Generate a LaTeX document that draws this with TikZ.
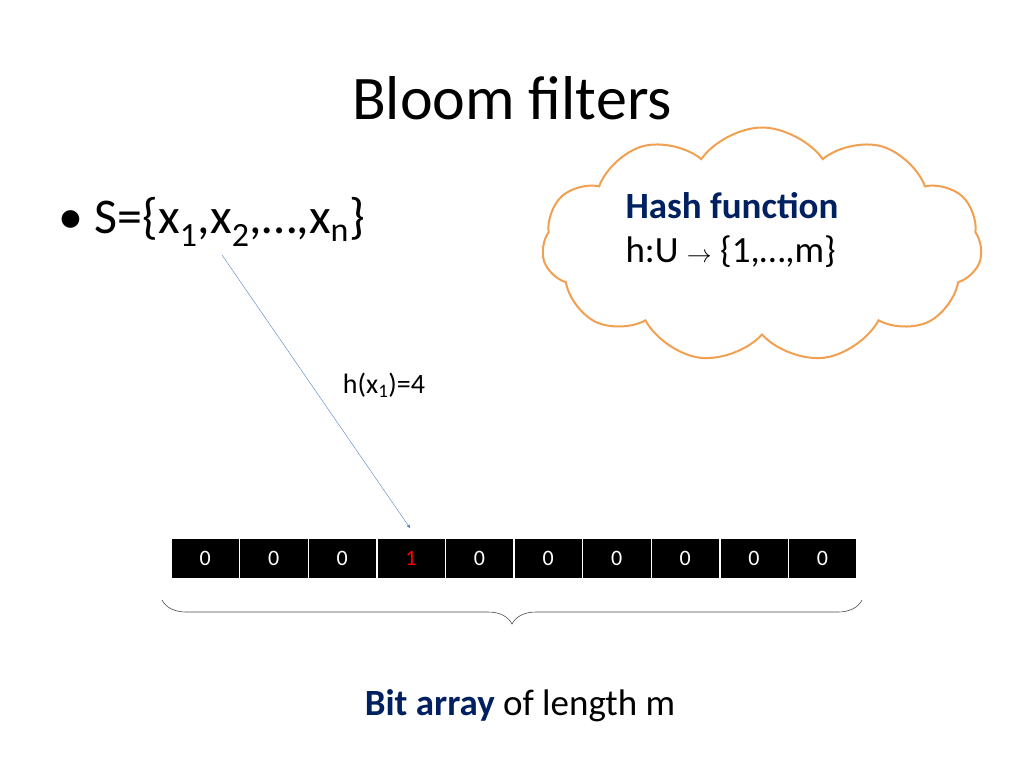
\documentclass[tikz,border=0pt]{standalone}
\usepackage{fontspec}
\setmainfont{Carlito}
\usetikzlibrary{shapes.symbols, decorations.pathreplacing, arrows, positioning}
\definecolor{navy}{RGB}{0,32,96}
\definecolor{cloudorange}{RGB}{240,160,80}
\definecolor{linkblue}{RGB}{80,130,190}
\begin{document}
\begin{tikzpicture}[x=1pt,y=-1pt,>=stealth']
\tikzset{bitcell/.style={draw=white, fill=black, text=white, minimum width=68.2pt,
  minimum height=40pt, inner sep=0pt, font=\fontsize{22}{22}\selectfont}}
\useasboundingbox (0,0) rectangle (1024,768);

\node[font=\fontsize{62}{62}\selectfont] (title) at (512,98) {Bloom filters};
\node[anchor=west, font=\fontsize{50}{50}\selectfont] (set) at (55,222)
  {\textbullet\ S=\{x$_{\mbox{\fontsize{34}{34}\selectfont 1}}$,x$_{\mbox{\fontsize{34}{34}\selectfont 2}}$,…,x$_{\mbox{\fontsize{34}{34}\selectfont n}}$\}};

\node[cloud, cloud puffs=11, cloud puff arc=110, aspect=1.9, draw=cloudorange, line width=2pt,
  fill=white, minimum width=440pt, minimum height=235pt] (cloud) at (762,245) {};
\node[anchor=west, align=left, font=\fontsize{37}{44}\selectfont] (hash) at (622,230)
  {\textcolor{navy}{\textbf{Hash function}}\\h:U \textbf{$\rightarrow$} \{1,…,m\}};

% bit array
\node[bitcell] (b1) at (205.1,558) {0};
\foreach \v [count=\i from 2, evaluate=\i as \p using int(\i-1)] in {0,0,\textcolor{red}{1},0,0,0,0,0,0}
  \node[bitcell, right=0pt of b\p] (b\i) {\v};

\coordinate (start) at (222,255);
\coordinate (hit) at (410,528);
\draw[->, linkblue, thin] (start) -- (hit);
\node[font=\fontsize{28}{28}\selectfont] (hlabel) at (384,385) {h(x$_{\mbox{\fontsize{19}{19}\selectfont 1}}$)=4};

\coordinate (bl) at (162,600);
\coordinate (br) at (862,600);
\draw[decorate, decoration={brace, mirror, amplitude=24pt}, line width=0.6pt, gray!60!black] (bl) -- (br);

\node[font=\fontsize{37}{37}\selectfont] (caption) at (520,706)
  {\textcolor{navy}{\textbf{Bit array}} of length m};
\end{tikzpicture}
\end{document}
